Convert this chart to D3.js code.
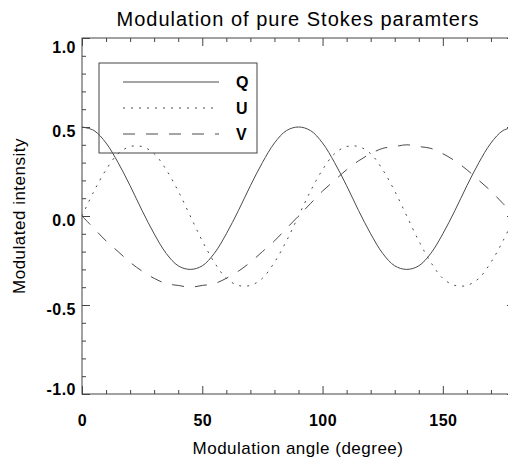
<!DOCTYPE html>
<html>
<head>
<meta charset="utf-8">
<script src="https://cdn.jsdelivr.net/npm/d3@7"></script>
<style>
  body { margin: 0; background: #fff; }
  svg { display: block; font-family: "Liberation Sans", Arial, Helvetica, sans-serif; }
</style>
</head>
<body>
<svg width="508" height="459"></svg>
<script>
// modulation angle (degree), every 5 degrees
var angles = [0,5,10,15,20,25,30,35,40,45,50,55,60,65,70,75,80,85,90,
              95,100,105,110,115,120,125,130,135,140,145,150,155,160,165,170,175,180];
var qValues = [0.50,0.48,0.41,0.30,0.17,0.03,-0.10,-0.21,-0.28,-0.30,-0.28,-0.21,-0.10,0.03,0.17,0.30,0.41,0.48,0.50,
               0.48,0.41,0.30,0.17,0.03,-0.10,-0.21,-0.28,-0.30,-0.28,-0.21,-0.10,0.03,0.17,0.30,0.41,0.48,0.50];
var uValues = [0.00,0.14,0.26,0.35,0.39,0.39,0.35,0.26,0.14,0.00,-0.14,-0.26,-0.35,-0.39,-0.39,-0.35,-0.26,-0.14,0.00,
               0.14,0.26,0.35,0.39,0.39,0.35,0.26,0.14,0.00,-0.14,-0.26,-0.35,-0.39,-0.39,-0.35,-0.26,-0.14,0.00];
var vValues = [0.00,-0.07,-0.14,-0.20,-0.26,-0.31,-0.35,-0.38,-0.39,-0.40,-0.39,-0.38,-0.35,-0.31,-0.26,-0.20,-0.14,-0.07,0.00,
               0.07,0.14,0.20,0.26,0.31,0.35,0.38,0.39,0.40,0.39,0.38,0.35,0.31,0.26,0.20,0.14,0.07,0.00];
var seriesNames = ["Q", "U", "V"];
var xTickValues = [0, 50, 100, 150];
var yTickValues = [-1, -0.5, 0, 0.5, 1];

var svg = d3.select("svg"),
    margin = {top: 38, right: -7, bottom: 65, left: 82},
    width = +svg.attr("width") - margin.left - margin.right,
    height = +svg.attr("height") - margin.top - margin.bottom;

var xScale = d3.scaleLinear().domain([0, 180]).range([0, width]);
var yScale = d3.scaleLinear().domain([-1, 1]).range([height, 0]);

var chartG = svg.append("g")
    .attr("transform", "translate(" + margin.left + "," + margin.top + ")");

var axisColor = "#444";
var lineColor = "#4a4a4a";

// frame
chartG.append("rect")
    .attr("x", xScale(0)).attr("y", yScale(1))
    .attr("width", xScale(180) - xScale(0))
    .attr("height", yScale(-1) - yScale(1))
    .attr("fill", "none")
    .attr("stroke", axisColor)
    .attr("stroke-width", 1);

function styleAxis(g) {
  g.select(".domain").remove();
  g.selectAll(".tick line").attr("stroke", axisColor);
}

var xMinor = xScale.ticks(18).filter(function(d) { return xTickValues.indexOf(d) < 0; });
var yMinor = yScale.ticks(20).filter(function(d) { return yTickValues.indexOf(d) < 0; });

// bottom axis
chartG.append("g")
    .attr("transform", "translate(0," + height + ")")
    .call(d3.axisBottom(xScale).tickValues(xMinor).tickSize(-4).tickFormat(""))
    .call(styleAxis);
var xAxisG = chartG.append("g")
    .attr("transform", "translate(0," + height + ")")
    .call(d3.axisBottom(xScale).tickValues(xTickValues).tickSize(-8).tickPadding(21)
          .tickFormat(function(d) { return String(d); }))
    .call(styleAxis);

// top axis
chartG.append("g")
    .call(d3.axisTop(xScale).tickValues(xMinor).tickSize(-4).tickFormat(""))
    .call(styleAxis);
chartG.append("g")
    .call(d3.axisTop(xScale).tickValues(xTickValues).tickSize(-8).tickFormat(""))
    .call(styleAxis);

// left axis
chartG.append("g")
    .call(d3.axisLeft(yScale).tickValues(yMinor).tickSize(-4).tickFormat(""))
    .call(styleAxis);
var yAxisG = chartG.append("g")
    .call(d3.axisLeft(yScale).tickValues(yTickValues).tickSize(-8).tickPadding(6)
          .tickFormat(function(d) { return d.toFixed(1); }))
    .call(styleAxis);

// right axis
chartG.append("g")
    .attr("transform", "translate(" + width + ",0)")
    .call(d3.axisRight(yScale).tickValues(yMinor).tickSize(-4).tickFormat(""))
    .call(styleAxis);
chartG.append("g")
    .attr("transform", "translate(" + width + ",0)")
    .call(d3.axisRight(yScale).tickValues(yTickValues).tickSize(-8).tickFormat(""))
    .call(styleAxis);

chartG.selectAll(".tick text")
    .attr("fill", "#000")
    .style("font-family", "'Liberation Sans', Arial, Helvetica, sans-serif")
    .style("font-size", "16px")
    .style("font-weight", "bold")
    .style("letter-spacing", "0.5px");

// the end labels sit inside the frame, the middle ones just below their tick
yAxisG.selectAll(".tick text")
    .attr("dy", function(d) {
      var shift = d === 1 ? 9 : (d === -1 ? -5 : 4);
      return (shift + 5.8) + "px";
    });

// curves
var series = [
  {name: "Q", values: qValues, dash: null},
  {name: "U", values: uValues, dash: "2,6"},
  {name: "V", values: vValues, dash: "12,11"}
];

var line = d3.line()
    .x(function(d, i) { return xScale(angles[i]); })
    .y(function(d) { return yScale(d); })
    .curve(d3.curveCatmullRom);

chartG.selectAll(".curve")
    .data(series)
  .enter().append("path")
    .attr("class", "curve")
    .attr("d", function(s) { return line(s.values); })
    .attr("fill", "none")
    .attr("stroke", lineColor)
    .attr("stroke-width", 1)
    .attr("stroke-dasharray", function(s) { return s.dash; });

// legend
var legendG = chartG.append("g").attr("transform", "translate(17,25)");
legendG.append("rect")
    .attr("width", 158).attr("height", 90)
    .attr("fill", "none")
    .attr("stroke", axisColor)
    .attr("stroke-width", 1);

var rows = legendG.selectAll(".row")
    .data(series)
  .enter().append("g")
    .attr("class", "row")
    .attr("transform", function(s, i) { return "translate(0," + (19 + i * 26) + ")"; });
rows.append("line")
    .attr("x1", 24).attr("x2", 120)
    .attr("stroke", lineColor)
    .attr("stroke-width", 1)
    .attr("stroke-dasharray", function(s) { return s.dash; });
rows.append("text")
    .attr("x", 137)
    .attr("dy", "0.36em")
    .style("font-size", "16px")
    .style("font-weight", "bold")
    .text(function(s, i) { return seriesNames[i]; });

// titles
svg.append("text")
    .attr("x", 298).attr("y", 26)
    .attr("text-anchor", "middle")
    .style("font-size", "20px")
    .style("letter-spacing", "1px")
    .text("Modulation of pure Stokes paramters");

svg.append("text")
    .attr("x", 298).attr("y", 454)
    .attr("text-anchor", "middle")
    .style("font-size", "17px")
    .style("letter-spacing", "0.5px")
    .text("Modulation angle (degree)");

svg.append("text")
    .attr("transform", "translate(25,216) rotate(-90)")
    .attr("text-anchor", "middle")
    .style("font-size", "17px")
    .style("letter-spacing", "0.5px")
    .text("Modulated intensity");
</script>
</body>
</html>
